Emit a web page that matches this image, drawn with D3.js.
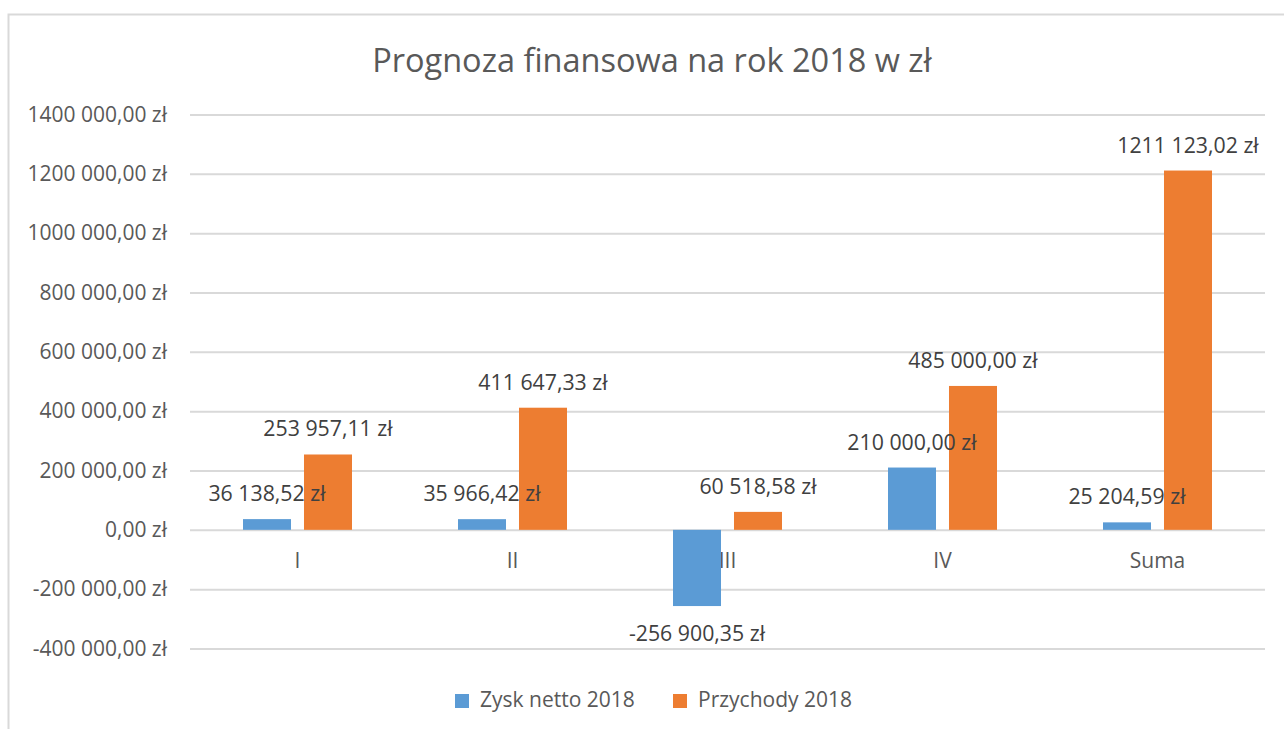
<!DOCTYPE html>
<html>
<head>
<meta charset="utf-8">
<script src="https://cdn.jsdelivr.net/npm/d3@7"></script>
<style>
  body { margin: 0; background: #fff; }
  text { font-family: "Open Sans", sans-serif; fill: #595959; }
</style>
</head>
<body>
<svg id="chart"></svg>
<script>
let categories = ["I", "II", "III", "IV", "Suma"];
let seriesNames = ["Zysk netto 2018", "Przychody 2018"];
let zyskNetto = [36138.52, 35966.42, -256900.35, 210000.00, 25204.59];
let przychody = [253957.11, 411647.33, 60518.58, 485000.00, 1211123.02];
let yTicks = [-400000, -200000, 0, 200000, 400000, 600000, 800000, 1000000, 1200000, 1400000];
let colors = ["#5B9BD5", "#ED7D31"];
let title = "Prognoza finansowa na rok 2018 w zł";

let width = 1284, height = 729;
let plot = { left: 190, right: 1265, top: 114.5, bottom: 648.5 };

let svg = d3.select("#chart")
    .attr("width", width)
    .attr("height", height);

// chart area border
svg.append("rect")
    .attr("x", 8.5)
    .attr("y", 14.5)
    .attr("width", width + 10)
    .attr("height", height + 10)
    .attr("fill", "none")
    .attr("stroke", "#D9D9D9")
    .attr("stroke-width", 2);

svg.append("text")
    .attr("x", 652)
    .attr("y", 72)
    .style("text-anchor", "middle")
    .style("font-size", "32.5px")
    .text(title);

let fmt = v => {
    let s = d3.format(".2f")(Math.abs(v)).replace(".", ",");
    // Excel style: only the last thousands group gets a space
    let parts = s.split(",");
    let intPart = parts[0];
    let grouped = intPart.length > 3
        ? intPart.slice(0, -3) + " " + intPart.slice(-3)
        : intPart;
    return (v < 0 ? "-" : "") + grouped + "," + parts[1] + " zł";
};

let yScale = d3.scaleLinear()
    .domain([-400000, 1400000])
    .range([plot.bottom, plot.top]);

let xScale = d3.scaleBand()
    .domain(categories)
    .range([plot.left, plot.right])
    .padding(0);

let inner = d3.scaleBand()
    .domain(seriesNames)
    .range([53, xScale.bandwidth() - 53])
    .paddingInner(0.213)
    .paddingOuter(0);

// gridlines + y labels
let yAxis = d3.axisLeft(yScale)
    .tickValues(yTicks)
    .tickSize(-(plot.right - plot.left))
    .tickPadding(23)
    .tickFormat(v => v === 0 ? "0,00 zł" : fmt(v));

svg.append("g")
    .classed("y-axis", true)
    .attr("transform", "translate(" + plot.left + ",0)")
    .call(yAxis)
    .call(g => g.select(".domain").remove())
    .call(g => g.selectAll("line").attr("stroke", "#D9D9D9").attr("stroke-width", 2))
    .call(g => g.selectAll("text").style("font-size", "21px").attr("fill", "#595959"));

// category labels
svg.append("g")
    .selectAll("text")
    .data(categories)
    .enter()
    .append("text")
    .attr("x", d => xScale(d) + xScale.bandwidth() / 2)
    .attr("y", 568)
    .style("text-anchor", "middle")
    .style("font-size", "21px")
    .text(d => d);

let rows = categories.map((c, i) => ({ cat: c, values: [zyskNetto[i], przychody[i]] }));

let groups = svg.selectAll(".cat")
    .data(rows)
    .enter()
    .append("g")
    .classed("cat", true)
    .attr("transform", d => "translate(" + xScale(d.cat) + ",0)");

let bars = groups.selectAll("rect")
    .data(d => d.values.map((v, j) => ({ name: seriesNames[j], value: v, color: colors[j] })))
    .enter();

bars.append("rect")
    .attr("x", d => inner(d.name))
    .attr("width", inner.bandwidth())
    .attr("y", d => yScale(Math.max(0, d.value)))
    .attr("height", d => Math.abs(yScale(d.value) - yScale(0)))
    .attr("fill", d => d.color);

bars.append("text")
    .attr("x", d => inner(d.name) + inner.bandwidth() / 2)
    .attr("y", d => d.value >= 0 ? yScale(d.value) - 18 : yScale(d.value) + 35)
    .style("text-anchor", "middle")
    .style("font-size", "21.3px")
    .style("fill", "#404040")
    .text(d => fmt(d.value));

// legend
let legend = svg.append("g").attr("transform", "translate(455,694)");
let legendX = [0, 218];
seriesNames.forEach((name, j) => {
    legend.append("rect")
        .attr("x", legendX[j])
        .attr("y", 0)
        .attr("width", 14)
        .attr("height", 14)
        .attr("fill", colors[j]);
    legend.append("text")
        .attr("x", legendX[j] + 25)
        .attr("y", 13)
        .style("font-size", "21px")
        .text(name);
});
</script>
</body>
</html>
